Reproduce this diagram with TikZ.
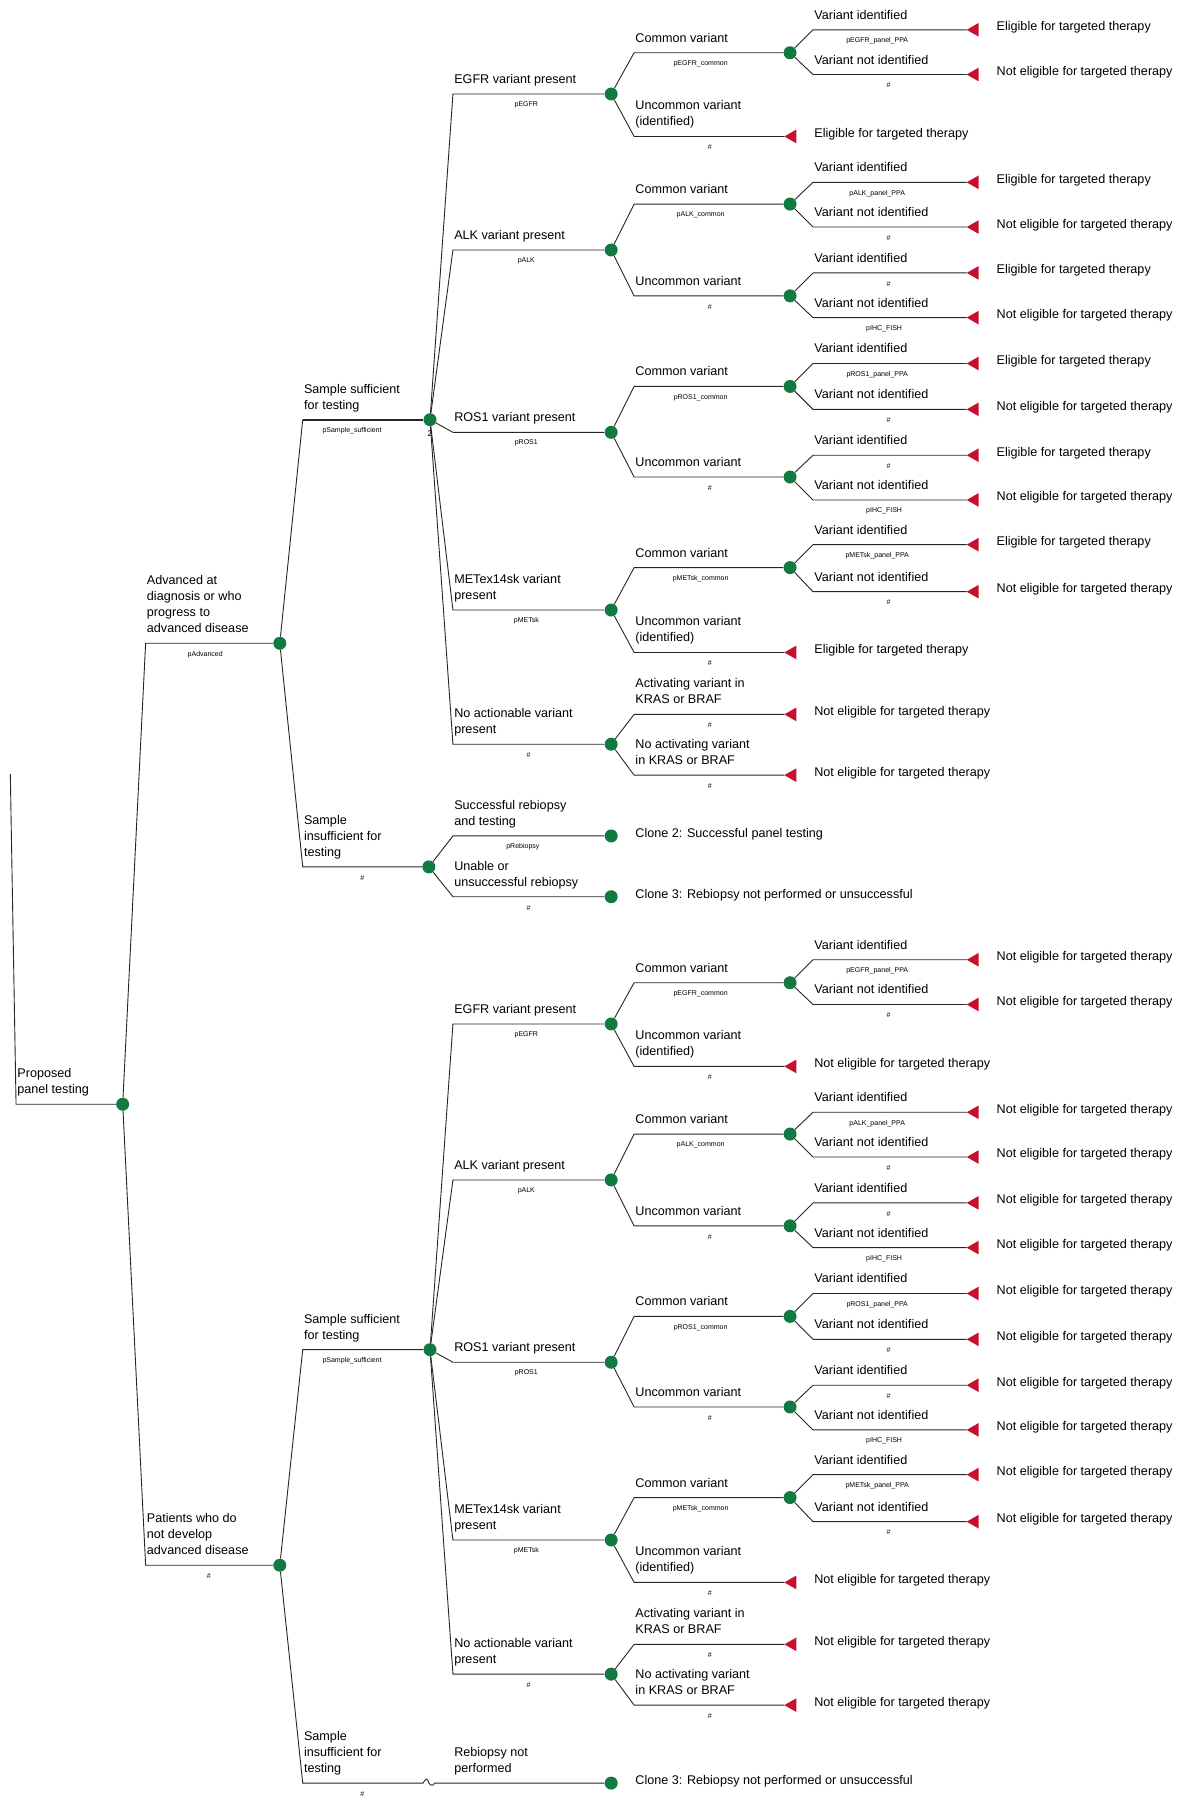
\documentclass[tikz,border=0pt]{standalone}
\usepackage{fontspec}
\setmainfont{Liberation Sans}
\definecolor{tgreen}{RGB}{18,122,64}
\definecolor{tred}{RGB}{200,16,46}
\newcount\lblcnt
\tikzset{
  chance/.style={circle, fill=tgreen, minimum size=13pt, inner sep=0pt},
  br/.style={draw=black!85, line width=0.9pt},
  lbl/.style={anchor=south west, inner sep=0pt, text depth=0pt, align=left, font=\fontsize{12.6}{16}\selectfont},
  prob/.style={inner sep=0pt, font=\fontsize{7}{8}\selectfont},
  ttext/.style={anchor=west, inner sep=0pt, font=\fontsize{12.6}{16}\selectfont},
}
\def\tE{Eligible for targeted therapy}
\def\tN{Not eligible for targeted therapy}
% branch: parent, corner x, y, end, label, prob label, prob x
\newcommand\Br[7]{%
  \draw[br] (#1) -- (#2,#3) -- (#4);
  \global\advance\lblcnt by 1
  \node[lbl] (t\the\lblcnt) at (#2+1,#3-9) {#5};
  \global\advance\lblcnt by 1
  \node[prob] (t\the\lblcnt) at (#7,#3+9.5) {#6};
}
% terminal: name, x, y, text, text x
\newcommand\Term[5]{%
  \coordinate (#1) at (#2,#3);
  \fill[tred] (#1) -- ++(10.5,-6) -- ++(0,12) -- cycle;
  \global\advance\lblcnt by 1
  \node[ttext] (t\the\lblcnt) at (#5,#3-2) {#4};
}
% sufficient-sample subtree: prefix, eligible text, y shift
\newcommand\SuffTree[3]{%
\begin{scope}[shift={(0,#3)}]
  \node[chance] (#1ss) at (375,366) {};
  \node[chance] (#1egfr) at (533,82) {};
  \node[chance] (#1alk) at (533,218) {};
  \node[chance] (#1ros) at (533,377) {};
  \node[chance] (#1met) at (533,532) {};
  \node[chance] (#1noact) at (533,649) {};
  \node[chance] (#1egfrC) at (689,46) {};
  \node[chance] (#1alkC) at (689,178) {};
  \node[chance] (#1alkU) at (689,258) {};
  \node[chance] (#1rosC) at (689,337) {};
  \node[chance] (#1rosU) at (689,416) {};
  \node[chance] (#1metC) at (689,495) {};
  % level 3
  \Br{#1ss}{395}{82}{#1egfr}{EGFR variant present}{pEGFR}{459}
  \Br{#1ss}{395}{218}{#1alk}{ALK variant present}{pALK}{459}
  \Br{#1ss}{395}{377}{#1ros}{ROS1 variant present}{pROS1}{459}
  \Br{#1ss}{395}{532}{#1met}{METex14sk variant\\present}{pMETsk}{459}
  \Br{#1ss}{395}{649}{#1noact}{No actionable variant\\present}{\#}{461}
  % EGFR
  \Br{#1egfr}{553}{46}{#1egfrC}{Common variant}{pEGFR\_common}{611}
  \Term{#1egfrUt}{684}{119}{#2}{710}
  \Br{#1egfr}{553}{119}{#1egfrUt}{Uncommon variant\\(identified)}{\#}{619}
  \Term{#1egfrCi}{843}{26}{#2}{869}
  \Br{#1egfrC}{709}{26}{#1egfrCi}{Variant identified}{pEGFR\_panel\_PPA}{765}
  \Term{#1egfrCn}{843}{65}{\tN}{869}
  \Br{#1egfrC}{709}{65}{#1egfrCn}{Variant not identified}{\#}{775}
  % ALK
  \Br{#1alk}{553}{178}{#1alkC}{Common variant}{pALK\_common}{611}
  \Br{#1alk}{553}{258}{#1alkU}{Uncommon variant}{\#}{619}
  \Term{#1alkCi}{843}{159}{#2}{869}
  \Br{#1alkC}{709}{159}{#1alkCi}{Variant identified}{pALK\_panel\_PPA}{765}
  \Term{#1alkCn}{843}{198}{\tN}{869}
  \Br{#1alkC}{709}{198}{#1alkCn}{Variant not identified}{\#}{775}
  \Term{#1alkUi}{843}{238}{#2}{869}
  \Br{#1alkU}{709}{238}{#1alkUi}{Variant identified}{\#}{775}
  \Term{#1alkUn}{843}{277}{\tN}{869}
  \Br{#1alkU}{709}{277}{#1alkUn}{Variant not identified}{pIHC\_FISH}{771}
  % ROS1
  \Br{#1ros}{553}{337}{#1rosC}{Common variant}{pROS1\_common}{611}
  \Br{#1ros}{553}{416}{#1rosU}{Uncommon variant}{\#}{619}
  \Term{#1rosCi}{843}{317}{#2}{869}
  \Br{#1rosC}{709}{317}{#1rosCi}{Variant identified}{pROS1\_panel\_PPA}{765}
  \Term{#1rosCn}{843}{357}{\tN}{869}
  \Br{#1rosC}{709}{357}{#1rosCn}{Variant not identified}{\#}{775}
  \Term{#1rosUi}{843}{397}{#2}{869}
  \Br{#1rosU}{709}{397}{#1rosUi}{Variant identified}{\#}{775}
  \Term{#1rosUn}{843}{436}{\tN}{869}
  \Br{#1rosU}{709}{436}{#1rosUn}{Variant not identified}{pIHC\_FISH}{771}
  % MET
  \Br{#1met}{553}{495}{#1metC}{Common variant}{pMETsk\_common}{611}
  \Term{#1metUt}{684}{569}{#2}{710}
  \Br{#1met}{553}{569}{#1metUt}{Uncommon variant\\(identified)}{\#}{619}
  \Term{#1metCi}{843}{475}{#2}{869}
  \Br{#1metC}{709}{475}{#1metCi}{Variant identified}{pMETsk\_panel\_PPA}{765}
  \Term{#1metCn}{843}{516}{\tN}{869}
  \Br{#1metC}{709}{516}{#1metCn}{Variant not identified}{\#}{775}
  % no actionable
  \Term{#1kras}{684}{623}{\tN}{710}
  \Br{#1noact}{553}{623}{#1kras}{Activating variant in\\KRAS or BRAF}{\#}{619}
  \Term{#1nokras}{684}{676}{\tN}{710}
  \Br{#1noact}{553}{676}{#1nokras}{No activating variant\\in KRAS or BRAF}{\#}{619}
\end{scope}}

\begin{document}
\begin{tikzpicture}[x=1.1462pt, y=-1.1462pt]
  \fill[white] (0,0) rectangle (1026,1568);
  \useasboundingbox (0,0) rectangle (1026,1568);

  % main chance nodes
  \node[chance] (root) at (107,963) {};
  \node[chance] (adv) at (244,561) {};
  \node[chance] (pat) at (244,1365) {};
  \node[chance] (si) at (374,756) {};
  \node[chance] (clone2) at (533,729) {};
  \node[chance] (clone3) at (533,782) {};
  \node[chance] (clone3b) at (533,1555) {};

  % incoming branch of root
  \coordinate (rin) at (9,675);
  \draw[br] (rin) -- (14,963) -- (root);
  \node[lbl] (rootlbl) at (15,954) {Proposed\\panel testing};

  % level 1
  \Br{root}{127}{561}{adv}{Advanced at\\diagnosis or who\\progress to\\advanced disease}{pAdvanced}{179}
  \Br{root}{127}{1365}{pat}{Patients who do\\not develop\\advanced disease}{\#}{182}

  % sufficient subtrees
  \SuffTree{a}{\tE}{0}
  \SuffTree{b}{\tN}{811}

  % level 2, top
  \draw[br] (adv) -- (264,366);
  \draw[br, line width=2pt] (264,366) -- (ass);
  \node[lbl] (sslbl) at (265,357) {Sample sufficient\\for testing};
  \node[prob] (ssp) at (307,375.5) {pSample\_sufficient};
  \node[prob, font=\fontsize{8.5}{9}\selectfont] (two) at (375,378.5) {2};
  \Br{adv}{264}{756}{si}{Sample\\insufficient for\\testing}{\#}{316}
  \Br{si}{395}{729}{clone2}{Successful rebiopsy\\and testing}{pRebiopsy}{456}
  \Br{si}{395}{782}{clone3}{Unable or\\unsuccessful rebiopsy}{\#}{461}
  \node[ttext] (c2t) at (554,727.5) {Clone 2: Successful panel testing};
  \node[ttext] (c3t) at (554,780.5) {Clone 3: Rebiopsy not performed or unsuccessful};

  % level 2, bottom
  \Br{pat}{264}{1177}{bss}{Sample sufficient\\for testing}{pSample\_sufficient}{307}
  \coordinate (sib) at (374,1555);
  \draw[br] (pat) -- (264,1555) -- (369,1555)
     .. controls (371,1550.5) and (373,1550.5) .. (sib)
     .. controls (376,1557.5) and (378,1557.5) .. (379,1555) -- (clone3b);
  \node[lbl] (silbl) at (265,1546) {Sample\\insufficient for\\testing};
  \node[prob] (sip) at (316,1564.5) {\#};
  \node[lbl] (rnp) at (396,1546) {Rebiopsy not\\performed};
  \node[ttext] (c3bt) at (554,1553.5) {Clone 3: Rebiopsy not performed or unsuccessful};
\end{tikzpicture}
\end{document}
